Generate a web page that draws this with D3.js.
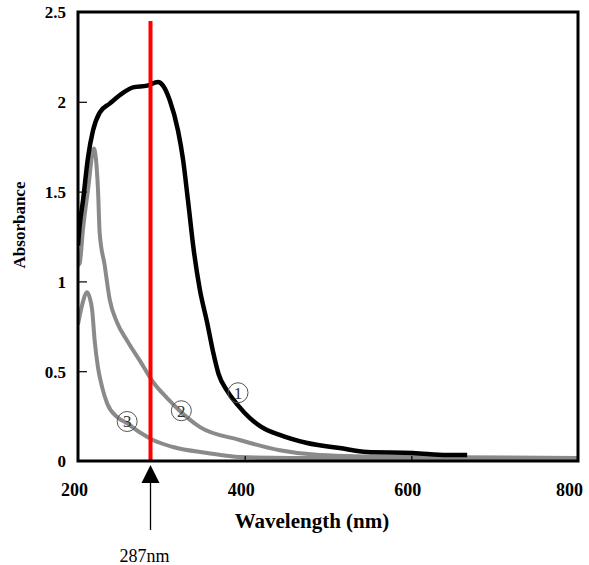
<!DOCTYPE html>
<html>
<head>
<meta charset="utf-8">
<script src="https://cdn.jsdelivr.net/npm/d3@7"></script>
<style>
html,body{margin:0;padding:0;background:#fff;}
svg{display:block;}
</style>
</head>
<body>
<svg id="chart" width="589" height="565"></svg>
<script>
// ---- data ----
const xTicks = [200, 400, 600, 800];
const yTicks = [0, 0.5, 1, 1.5, 2, 2.5];
const yTickLabels = ["0", "0.5", "1", "1.5", "2", "2.5"];

const wl1  = [200, 202, 206, 212, 218, 226, 238, 254, 266, 283, 296, 302, 310, 320, 326, 332, 339, 346, 355, 362, 369, 379, 392, 406, 420, 442, 475, 514, 547, 602, 643, 667];
const abs1 = [1.20, 1.31, 1.45, 1.69, 1.84, 1.94, 1.99, 2.05, 2.08, 2.09, 2.11, 2.09, 2.01, 1.84, 1.68, 1.45, 1.17, 0.96, 0.77, 0.61, 0.48, 0.39, 0.31, 0.24, 0.19, 0.145, 0.10, 0.072, 0.05, 0.045, 0.033, 0.033];

const wl2  = [200, 202, 206, 212, 219, 224, 226, 232, 238, 247, 259, 274, 290, 307, 322, 346, 394, 442, 490, 586, 800];
const abs2 = [1.09, 1.10, 1.29, 1.51, 1.74, 1.51, 1.27, 1.09, 0.90, 0.77, 0.67, 0.56, 0.44, 0.35, 0.28, 0.19, 0.117, 0.06, 0.033, 0.022, 0.017];

const wl3  = [200, 205, 211, 214, 217, 220, 224, 229, 235, 247, 259, 274, 290, 314, 355, 394, 454, 800];
const abs3 = [0.76, 0.87, 0.94, 0.91, 0.84, 0.67, 0.52, 0.41, 0.32, 0.245, 0.21, 0.16, 0.117, 0.078, 0.045, 0.022, 0.017, 0.017];

const curveNames = ["1", "2", "3"];
const labelWl  = [392, 324, 259];
const labelAbs = [0.38, 0.28, 0.22];

const markerWl = 287;
const markerText = "287nm";
const markerTop = 2.45;
const xTitle = "Wavelength (nm)";
const yTitle = "Absorbance";

// ---- layout ----
const svg = d3.select("#chart");
const L = 78, R = 578, T = 12, B = 461;
const x = d3.scaleLinear().domain([200, 800]).range([L, R]);
const y = d3.scaleLinear().domain([0, 2.5]).range([B, T]);
const serif = "'Liberation Serif', 'Times New Roman', serif";

svg.append("defs").append("clipPath").attr("id", "clip")
  .append("rect").attr("x", L).attr("y", T).attr("width", R - L).attr("height", B - T);

const g = svg.append("g").attr("clip-path", "url(#clip)");
const line = d3.line().x(d => x(d[0])).y(d => y(d[1])).curve(d3.curveMonotoneX);

const series = [
  {wl: wl3, a: abs3, color: "#8a8a8a", w: 4},
  {wl: wl2, a: abs2, color: "#8a8a8a", w: 4},
  {wl: wl1, a: abs1, color: "#000", w: 4.5}
];
series.forEach(s => {
  g.append("path")
    .datum(s.wl.map((v, i) => [v, s.a[i]]))
    .attr("d", line)
    .attr("fill", "none")
    .attr("stroke", s.color)
    .attr("stroke-width", s.w)
    .attr("stroke-linejoin", "round");
});

// circled labels
curveNames.forEach((n, i) => {
  const cx = x(labelWl[i]), cy = y(labelAbs[i]);
  svg.append("circle").attr("cx", cx).attr("cy", cy).attr("r", 10)
    .attr("fill", "none").attr("stroke", "#555").attr("stroke-width", 1);
  svg.append("text").attr("x", cx).attr("y", cy + 6)
    .attr("text-anchor", "middle").attr("font-family", serif)
    .attr("font-size", 17).attr("fill", "#333").text(n);
});

// red marker line
svg.append("line")
  .attr("x1", x(markerWl)).attr("x2", x(markerWl))
  .attr("y1", y(markerTop)).attr("y2", B)
  .attr("stroke", "#ff0000").attr("stroke-width", 4);

// frame
svg.append("rect").attr("x", L).attr("y", T).attr("width", R - L).attr("height", B - T)
  .attr("fill", "none").attr("stroke", "#000").attr("stroke-width", 3);

// y axis (inward ticks)
const yAxis = d3.axisLeft(y).tickValues(yTicks).tickSize(-9).tickPadding(12)
  .tickFormat((d, i) => yTickLabels[i]);
const ya = svg.append("g").attr("transform", `translate(${L},0)`).call(yAxis);
ya.select(".domain").remove();
ya.selectAll(".tick line").attr("stroke", "#000").attr("stroke-width", 1.2);
ya.selectAll(".tick text").attr("font-family", serif).attr("font-weight", "bold")
  .attr("font-size", 17).attr("fill", "#000").attr("dy", "0.35em");
ya.selectAll(".tick").filter(d => d === 0 || d === 2.5).select("line").remove();

// x axis (inward ticks)
const xAxis = d3.axisBottom(x).tickValues(xTicks).tickSize(-5).tickPadding(22)
  .tickFormat(d3.format("d"));
const xa = svg.append("g").attr("transform", `translate(0,${B})`).call(xAxis);
xa.select(".domain").remove();
xa.selectAll(".tick line").attr("stroke", "#000").attr("stroke-width", 1.2);
xa.selectAll(".tick").filter(d => d === 200 || d === 800).select("line").remove();
xa.selectAll(".tick text").attr("font-family", serif).attr("font-weight", "bold")
  .attr("font-size", 18).attr("fill", "#000")
  .attr("dx", d => d === 800 ? -9 : -4);

// axis titles
svg.append("text").attr("x", 312).attr("y", 528).attr("text-anchor", "middle")
  .attr("font-family", serif).attr("font-weight", "bold").attr("font-size", 21).text(xTitle);
svg.append("text").attr("transform", "translate(25,225) rotate(-90)").attr("text-anchor", "middle")
  .attr("font-family", serif).attr("font-weight", "bold").attr("font-size", 17).text(yTitle);

// arrow + marker label
const ax = x(markerWl);
svg.append("path")
  .attr("d", `M${ax},${B + 4} L${ax - 9},${B + 22} L${ax + 9},${B + 22} Z`)
  .attr("fill", "#000");
svg.append("line").attr("x1", ax).attr("x2", ax).attr("y1", B + 22).attr("y2", 530)
  .attr("stroke", "#000").attr("stroke-width", 1.3);
svg.append("text").attr("x", ax - 6).attr("y", 562).attr("text-anchor", "middle")
  .attr("font-family", serif).attr("font-size", 18).text(markerText);
</script>
</body>
</html>
